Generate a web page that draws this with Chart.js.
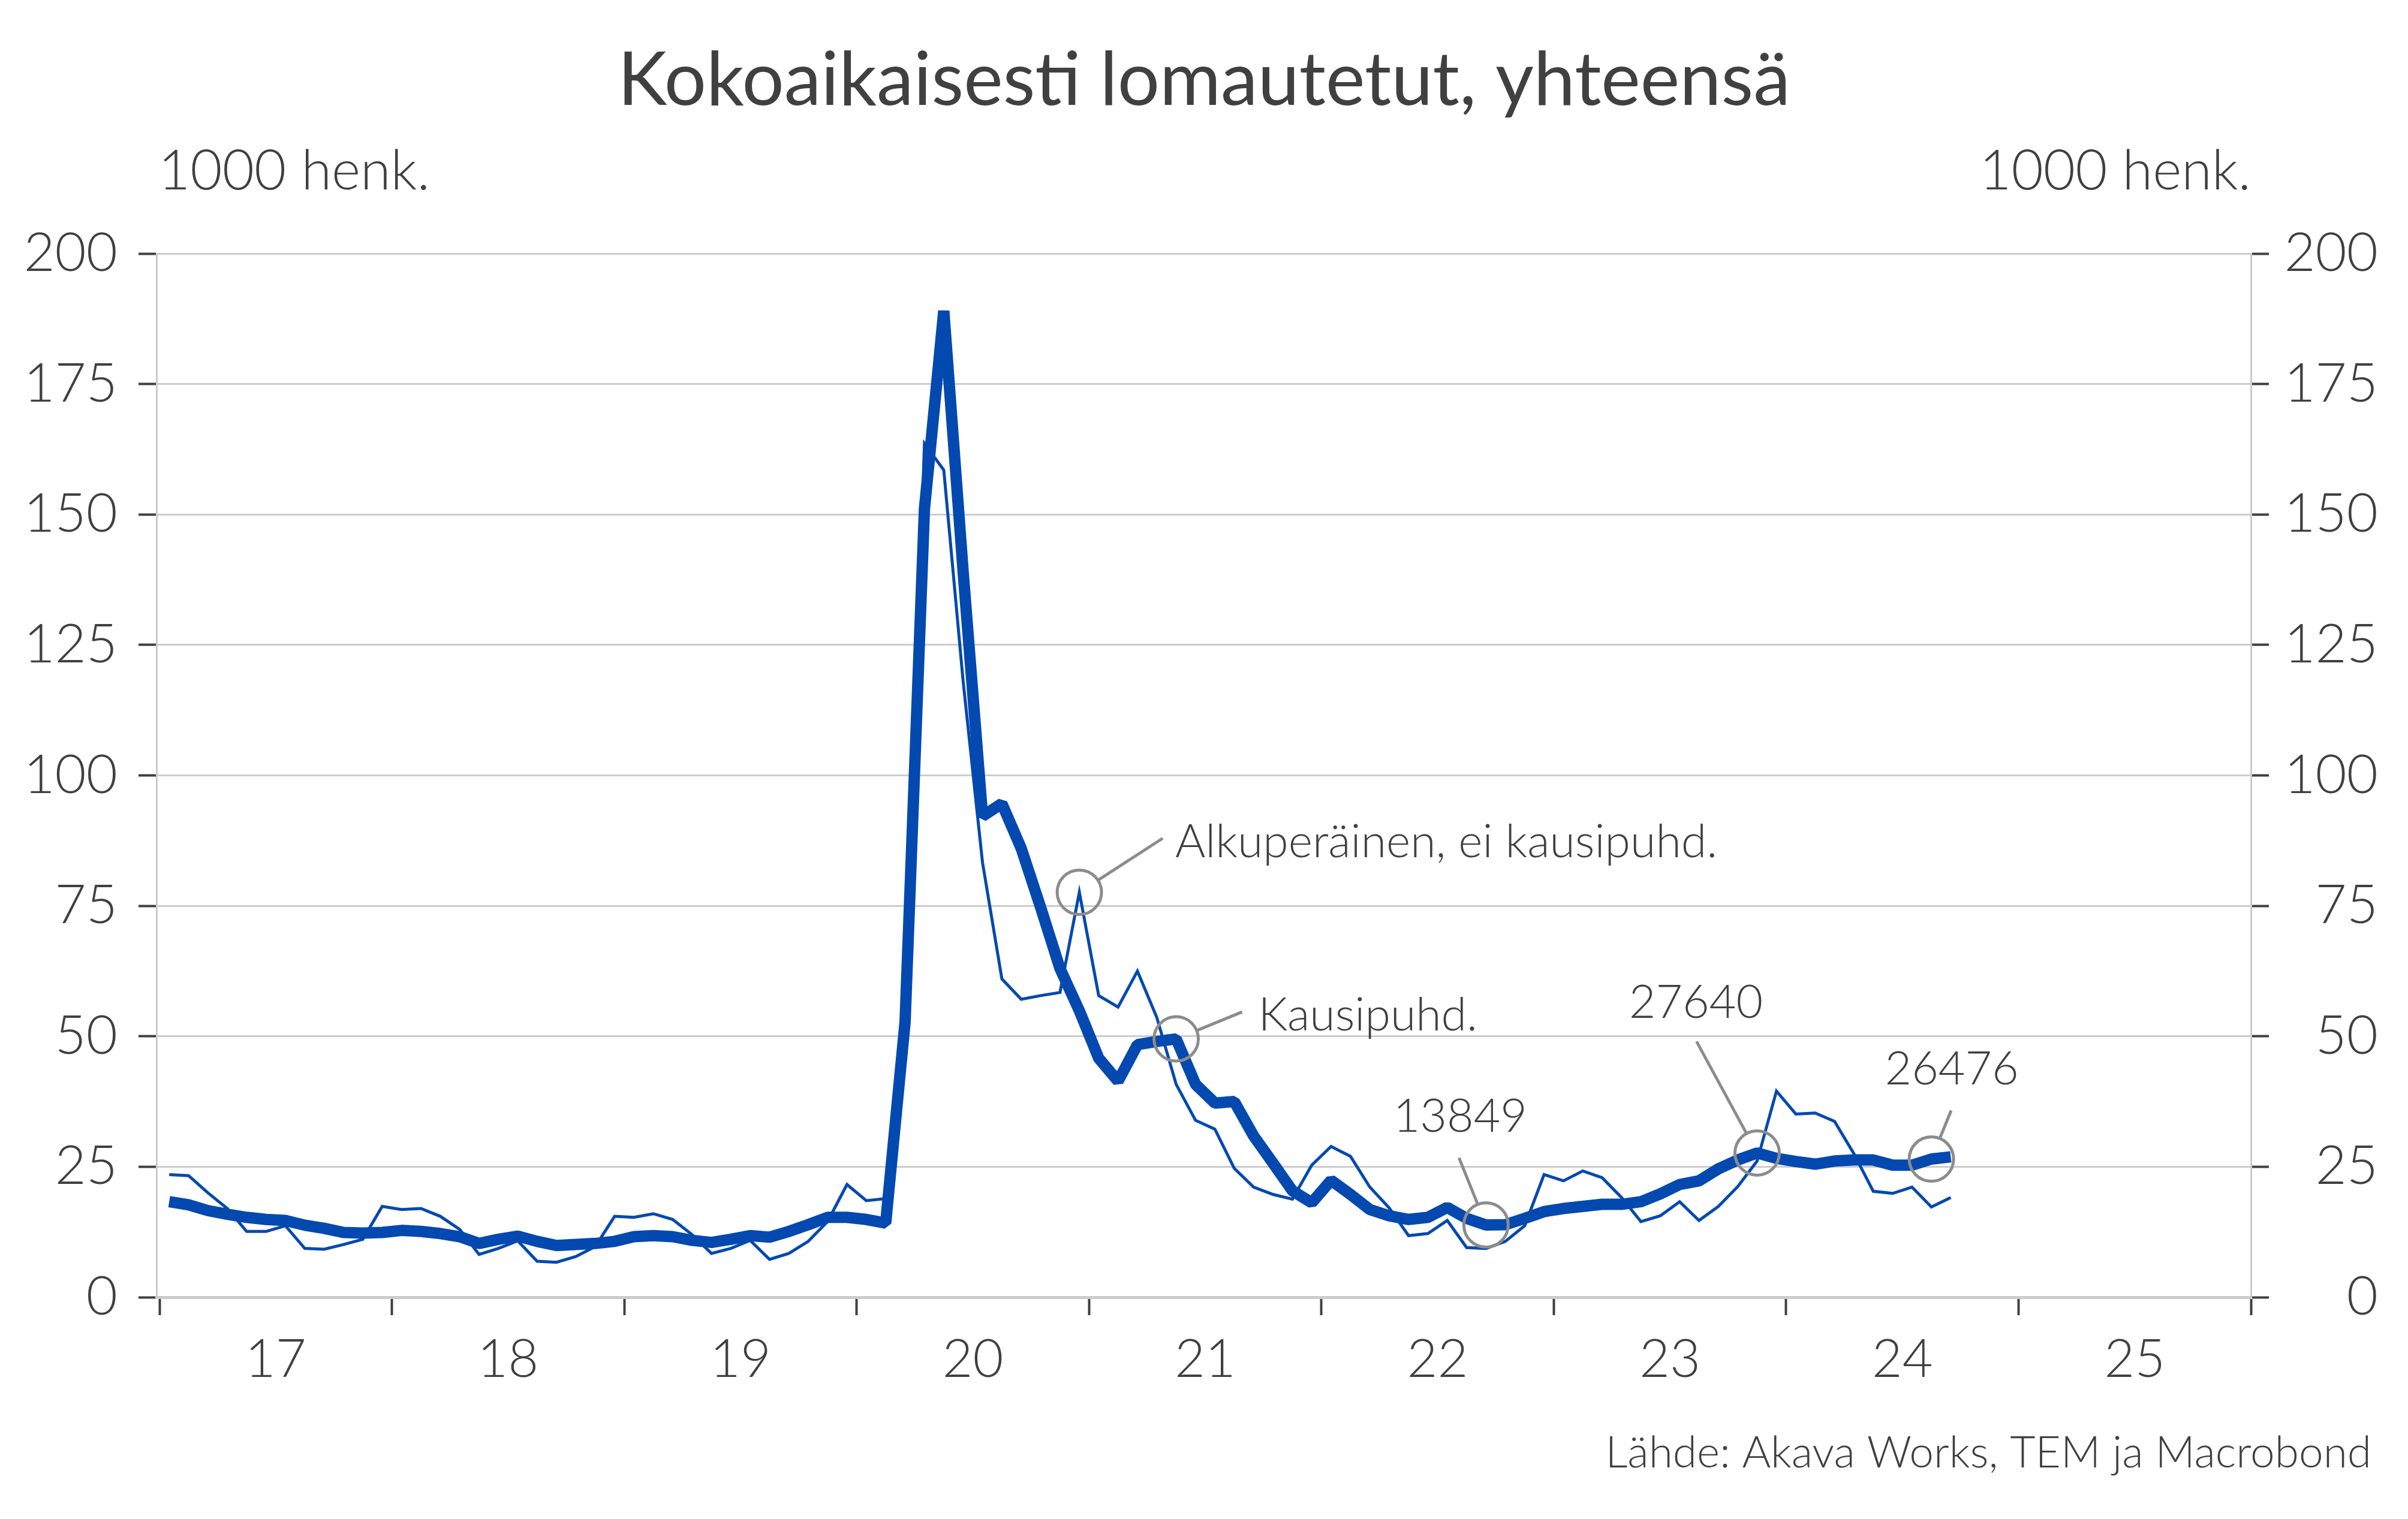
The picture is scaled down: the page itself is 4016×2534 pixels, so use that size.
<!DOCTYPE html>
<html>
<head>
<meta charset="utf-8">
<script src="https://cdn.jsdelivr.net/npm/chart.js@4.4.1/dist/chart.umd.min.js"></script>
<style>
  html, body { margin: 0; padding: 0; background: #ffffff; }
  canvas { display: block; }
</style>
</head>
<body>
<canvas id="lomautetut" width="4016" height="2534"></canvas>
<script>
// Kokoaikaisesti lomautetut, 1000 henk., kuukausittain 1/2017 - 9/2024
const firstYear = 2017;
const kausipuhd = [
    18.3, 17.7, 16.6, 15.9, 15.3, 14.9, 14.7, 13.8, 13.2, 12.4, 12.3, 12.4,
    12.8, 12.6, 12.2, 11.6, 10.3, 11.1, 11.7, 10.7, 9.9, 10.1, 10.3, 10.7,
    11.6, 11.8, 11.6, 10.9, 10.5, 11.1, 11.8, 11.5, 12.6, 13.9, 15.3, 15.3,
    14.9, 14.2, 52.7, 151, 189, 139, 92.2, 94.6, 86.0, 74.7, 63.0, 54.9,
    45.8, 41.4, 48.4, 49.0, 49.5, 40.8, 37.2, 37.5, 30.9, 25.7, 20.4, 18.1,
    22.4, 19.7, 16.8, 15.6, 14.9, 15.3, 17.2, 15.1, 13.849, 13.9, 15.1, 16.4,
    17.0, 17.4, 17.8, 17.8, 18.3, 19.8, 21.6, 22.3, 24.6, 26.3, 27.64, 26.6,
    26.0, 25.5, 26.1, 26.3, 26.3, 25.3, 25.3, 26.476, 26.9
];
const alkuperainen = [
    23.5, 23.3, 20.0, 17.0, 12.6, 12.6, 13.7, 9.35, 9.2, 10.1, 11.1, 17.4,
    16.8, 17.0, 15.5, 13.0, 8.2, 9.35, 10.8, 6.9, 6.7, 7.8, 9.7, 15.5,
    15.3, 16.0, 14.9, 12.0, 8.4, 9.35, 10.9, 7.25, 8.4, 10.7, 14.5, 21.6,
    18.5, 18.9, 50.0, 163.6, 158.5, 118, 83.3, 61.0, 57.1, 57.8, 58.4, 77.6,
    57.8, 55.6, 62.5, 53.6, 40.8, 33.9, 32.2, 24.7, 21.1, 19.7, 18.8, 25.3,
    28.9, 27.0, 21.1, 17.1, 11.8, 12.2, 14.7, 9.5, 9.35, 10.7, 13.7, 23.5,
    22.3, 24.2, 22.9, 19.1, 14.5, 15.6, 18.3, 14.7, 17.4, 21.2, 26.1, 39.5,
    35.1, 35.3, 33.7, 27.5, 20.3, 19.9, 21.1, 17.3, 19.1
];
const yearLabels = ['17', '18', '19', '20', '21', '22', '23', '24', '25'];
const yTicks = [0, 25, 50, 75, 100, 125, 150, 175, 200];

// annotations: which series, month index, label text
const notes = [
    { series: 'alku', index: 47, text: 'Alkuperäinen, ei kausipuhd.', lx: 139, ly: -90, tx: 160, ty: -86, align: 'left' },
    { series: 'kausi', index: 52, text: 'Kausipuhd.', lx: 110, ly: -45, tx: 137, ty: -42, align: 'left' },
    { series: 'kausi', index: 68, text: '13849', lx: -45, ly: -112, tx: -43, ty: -183, align: 'center' },
    { series: 'kausi', index: 82, text: '27640', lx: -101, ly: -186, tx: -102, ty: -253, align: 'center' },
    { series: 'kausi', index: 91, text: '26476', lx: 33, ly: -81, tx: 34, ty: -153, align: 'center' }
];

const FONT = 'Lato, "Open Sans", sans-serif';
const TEXT = '#404040';
const BLUE = '#0449B0';
const GRID = '#cccccc';

// month midpoints as decimal years
const monthPos = kausipuhd.map((v, i) => firstYear + (i + 0.5) / 12);
const kausiPoints = kausipuhd.map((v, i) => ({ x: monthPos[i], y: v }));
const alkuPoints = alkuperainen.map((v, i) => ({ x: monthPos[i], y: v }));

const textPlugin = {
    id: 'texts',
    afterDraw(chart) {
        const ctx = chart.ctx;
        const area = chart.chartArea;
        ctx.save();
        ctx.fillStyle = TEXT;
        ctx.textBaseline = 'alphabetic';

        ctx.font = '400 124px ' + FONT;
        ctx.textAlign = 'center';
        ctx.fillText('Kokoaikaisesti lomautetut, yhteensä', chart.width / 2, 175);

        ctx.font = '300 92px ' + FONT;
        ctx.textAlign = 'left';
        ctx.fillText('1000 henk.', area.left + 3, 316);
        ctx.textAlign = 'right';
        ctx.fillText('1000 henk.', area.right, 316);

        ctx.font = '300 73px ' + FONT;
        ctx.textAlign = 'right';
        ctx.fillText('Lähde: Akava Works, TEM ja Macrobond', 3955, 2448);

        // annotation circles, leader lines and labels
        const xs = chart.scales.x;
        const ys = chart.scales.y;
        const r = 37;
        notes.forEach(n => {
            const src = n.series === 'alku' ? alkuperainen : kausipuhd;
            const cx = xs.getPixelForValue(monthPos[n.index]);
            const cy = ys.getPixelForValue(src[n.index]);
            ctx.strokeStyle = '#8c8c8c';
            ctx.lineWidth = 5;
            ctx.beginPath();
            ctx.arc(cx, cy, r, 0, Math.PI * 2);
            ctx.stroke();
            const len = Math.hypot(n.lx, n.ly);
            ctx.beginPath();
            ctx.moveTo(cx + n.lx / len * r, cy + n.ly / len * r);
            ctx.lineTo(cx + n.lx, cy + n.ly);
            ctx.stroke();
            ctx.font = '300 77px ' + FONT;
            ctx.textAlign = n.align;
            ctx.fillStyle = TEXT;
            ctx.fillText(n.text, cx + n.tx, cy + n.ty + 28);
        });
        ctx.restore();
    }
};

const ctx_lomautetut = document.getElementById('lomautetut').getContext('2d');
const lomautetut = new Chart(ctx_lomautetut,
    {
        type: 'line',
        data: {
            datasets: [
                {
                    label: 'Kausipuhd.',
                    data: kausiPoints,
                    borderColor: BLUE,
                    borderWidth: 19,
                    borderJoinStyle: 'bevel',
                    pointRadius: 0,
                    tension: 0
                },
                {
                    label: 'Alkuperäinen, ei kausipuhd.',
                    data: alkuPoints,
                    borderColor: BLUE,
                    borderWidth: 5,
                    pointRadius: 0,
                    tension: 0
                }
            ]
        },
        options: {
            responsive: false,
            animation: false,
            devicePixelRatio: 1,
            layout: { padding: { top: 423, left: 0, right: 50, bottom: 0 } },
            plugins: {
                legend: { display: false },
                tooltip: { enabled: false },
                title: { display: false }
            },
            scales: {
                x: {
                    type: 'linear',
                    min: 2016.987,
                    max: 2026,
                    afterBuildTicks: scale => {
                        const t = [];
                        for (let v = firstYear; v <= 2026; v += 0.5) t.push({ value: v });
                        scale.ticks = t;
                    },
                    afterFit: scale => { scale.height = 370; },
                    grid: {
                        drawOnChartArea: false,
                        tickLength: 30,
                        tickWidth: 4,
                        tickColor: c => (c.tick && Number.isInteger(c.tick.value)) ? TEXT : 'rgba(0,0,0,0)'
                    },
                    border: { color: GRID, width: 5 },
                    ticks: {
                        autoSkip: false,
                        maxRotation: 0,
                        padding: 22,
                        color: TEXT,
                        font: { family: FONT, size: 88, weight: '300' },
                        callback: v => Number.isInteger(v) ? '' : yearLabels[Math.floor(v) - firstYear]
                    }
                },
                y: {
                    position: 'left',
                    min: 0,
                    max: 200,
                    afterBuildTicks: scale => { scale.ticks = yTicks.map(v => ({ value: v })); },
                    afterFit: scale => { scale.width = 261; },
                    grid: {
                        color: GRID,
                        lineWidth: 3,
                        tickLength: 30,
                        tickWidth: 4,
                        tickColor: TEXT
                    },
                    border: { color: GRID, width: 3 },
                    ticks: {
                        padding: 35,
                        color: TEXT,
                        font: { family: FONT, size: 90, weight: '300' }
                    }
                },
                y2: {
                    position: 'right',
                    min: 0,
                    max: 200,
                    afterBuildTicks: scale => { scale.ticks = yTicks.map(v => ({ value: v })); },
                    afterFit: scale => { scale.width = 212; },
                    grid: {
                        drawOnChartArea: false,
                        tickLength: 30,
                        tickWidth: 4,
                        tickColor: TEXT
                    },
                    border: { color: GRID, width: 3 },
                    ticks: {
                        padding: 35,
                        crossAlign: 'far',
                        color: TEXT,
                        font: { family: FONT, size: 90, weight: '300' }
                    }
                }
            }
        },
        plugins: [textPlugin]
    });
</script>
</body>
</html>
